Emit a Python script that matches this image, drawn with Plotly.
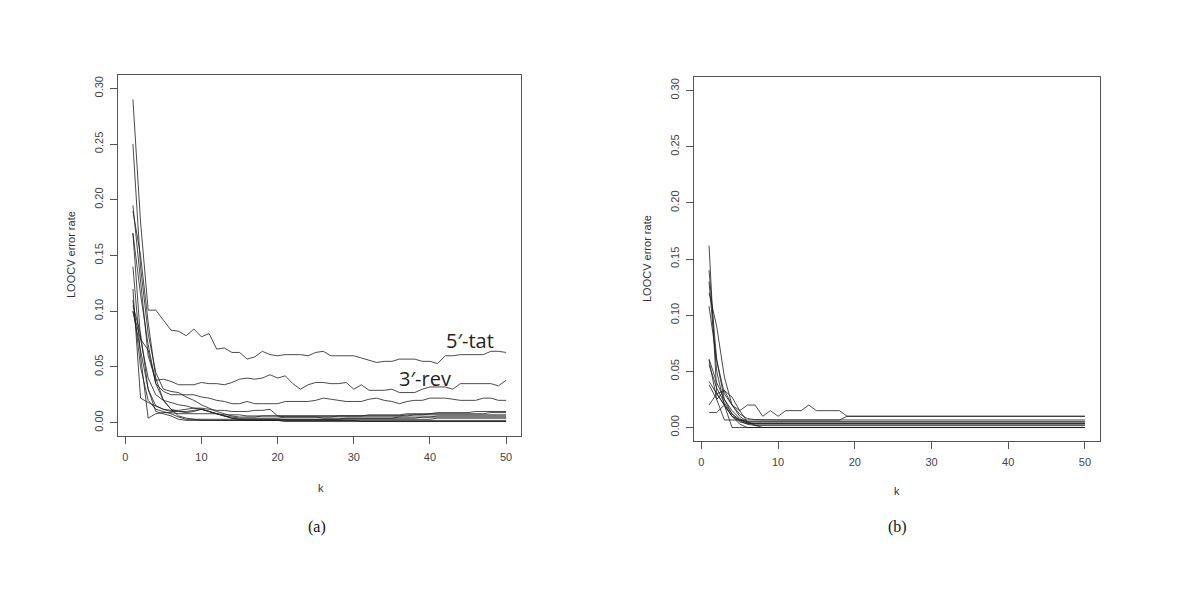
import plotly.graph_objects as go

# k = 1..50 neighbours
k = list(range(1, 51))

# ---- panel (a): LOOCV error rate curves ----
left_5tat = [
    0.290, 0.180, 0.101, 0.101, 0.092, 0.083, 0.082, 0.078, 0.084, 0.077,
    0.080, 0.066, 0.067, 0.063, 0.063, 0.057, 0.059, 0.064, 0.061, 0.060,
    0.061, 0.061, 0.061, 0.060, 0.063, 0.064, 0.060, 0.060, 0.060, 0.060,
    0.058, 0.056, 0.054, 0.055, 0.055, 0.057, 0.057, 0.057, 0.055, 0.055,
    0.053, 0.060, 0.060, 0.061, 0.061, 0.061, 0.061, 0.064, 0.064, 0.063,
]
left_3rev = [
    0.195, 0.130, 0.060, 0.038, 0.039, 0.037, 0.034, 0.034, 0.034, 0.036,
    0.035, 0.035, 0.034, 0.036, 0.039, 0.040, 0.039, 0.040, 0.043, 0.040,
    0.042, 0.035, 0.030, 0.034, 0.036, 0.036, 0.035, 0.035, 0.036, 0.030,
    0.034, 0.029, 0.029, 0.029, 0.030, 0.027, 0.027, 0.027, 0.030, 0.032,
    0.032, 0.032, 0.030, 0.035, 0.035, 0.035, 0.035, 0.035, 0.033, 0.038,
]
left_c = [
    0.170, 0.115, 0.070, 0.035, 0.028, 0.025, 0.025, 0.025, 0.025, 0.023,
    0.022, 0.020, 0.019, 0.017, 0.017, 0.019, 0.017, 0.017, 0.017, 0.017,
    0.019, 0.019, 0.019, 0.019, 0.020, 0.022, 0.021, 0.020, 0.019, 0.019,
    0.019, 0.021, 0.022, 0.020, 0.019, 0.017, 0.019, 0.020, 0.020, 0.022,
    0.022, 0.022, 0.021, 0.020, 0.020, 0.020, 0.022, 0.022, 0.020, 0.020,
]
left_d = [
    0.250, 0.140, 0.080, 0.045, 0.030, 0.028, 0.027, 0.023, 0.020, 0.016,
    0.013, 0.010, 0.008, 0.006, 0.005, 0.005, 0.005, 0.006, 0.006, 0.006,
    0.006, 0.006, 0.006, 0.006, 0.006, 0.006, 0.006, 0.006, 0.006, 0.006,
    0.006, 0.007, 0.007, 0.007, 0.007, 0.007, 0.008, 0.008, 0.008, 0.008,
    0.009, 0.009, 0.009, 0.009, 0.009, 0.010, 0.010, 0.010, 0.010, 0.010,
]
left_e = [
    0.190, 0.150, 0.090, 0.040, 0.020, 0.012, 0.010, 0.010, 0.011, 0.012,
    0.010, 0.008, 0.006, 0.005, 0.004, 0.004, 0.004, 0.004, 0.004, 0.004,
    0.005, 0.005, 0.005, 0.005, 0.005, 0.005, 0.005, 0.006, 0.006, 0.006,
    0.006, 0.006, 0.006, 0.006, 0.006, 0.006, 0.007, 0.007, 0.007, 0.008,
    0.008, 0.008, 0.008, 0.008, 0.008, 0.008, 0.008, 0.009, 0.009, 0.009,
]
left_f = [
    0.140, 0.060, 0.004, 0.008, 0.009, 0.009, 0.008, 0.008, 0.008, 0.008,
    0.008, 0.008, 0.007, 0.007, 0.007, 0.006, 0.006, 0.006, 0.006, 0.006,
    0.006, 0.006, 0.006, 0.006, 0.006, 0.006, 0.006, 0.006, 0.006, 0.006,
    0.006, 0.006, 0.006, 0.006, 0.006, 0.006, 0.006, 0.007, 0.007, 0.007,
    0.007, 0.007, 0.007, 0.007, 0.007, 0.007, 0.007, 0.007, 0.007, 0.007,
]
left_g = [
    0.120, 0.022, 0.018, 0.015, 0.012, 0.010, 0.010, 0.009, 0.010, 0.012,
    0.010, 0.008, 0.006, 0.004, 0.003, 0.003, 0.003, 0.003, 0.003, 0.003,
    0.003, 0.003, 0.003, 0.003, 0.003, 0.003, 0.003, 0.003, 0.004, 0.004,
    0.004, 0.004, 0.004, 0.004, 0.004, 0.004, 0.004, 0.004, 0.005, 0.005,
    0.005, 0.005, 0.005, 0.005, 0.005, 0.005, 0.005, 0.005, 0.005, 0.005,
]
left_h = [
    0.110, 0.050, 0.020, 0.012, 0.010, 0.008, 0.005, 0.003, 0.003, 0.003,
    0.003, 0.003, 0.003, 0.003, 0.003, 0.003, 0.003, 0.003, 0.003, 0.003,
    0.003, 0.003, 0.003, 0.003, 0.003, 0.003, 0.003, 0.003, 0.003, 0.003,
    0.003, 0.003, 0.003, 0.003, 0.003, 0.003, 0.003, 0.003, 0.003, 0.003,
    0.004, 0.004, 0.004, 0.004, 0.004, 0.004, 0.004, 0.004, 0.004, 0.004,
]
left_i = [
    0.100, 0.075, 0.065, 0.035, 0.020, 0.012, 0.006, 0.004, 0.003, 0.002,
    0.002, 0.002, 0.002, 0.002, 0.002, 0.002, 0.002, 0.002, 0.002, 0.002,
    0.002, 0.002, 0.002, 0.002, 0.002, 0.002, 0.002, 0.002, 0.002, 0.002,
    0.001, 0.001, 0.001, 0.001, 0.001, 0.001, 0.001, 0.001, 0.001, 0.001,
    0.001, 0.001, 0.001, 0.001, 0.001, 0.001, 0.001, 0.001, 0.001, 0.001,
]
left_j = [
    0.105, 0.080, 0.030, 0.015, 0.012, 0.011, 0.011, 0.012, 0.013, 0.013,
    0.012, 0.011, 0.011, 0.010, 0.010, 0.010, 0.011, 0.011, 0.012, 0.006,
    0.005, 0.005, 0.005, 0.005, 0.005, 0.004, 0.004, 0.004, 0.004, 0.004,
    0.004, 0.004, 0.004, 0.004, 0.004, 0.005, 0.005, 0.005, 0.005, 0.005,
    0.006, 0.006, 0.006, 0.006, 0.006, 0.006, 0.006, 0.006, 0.006, 0.006,
]
left_k = [
    0.170, 0.075, 0.040, 0.025, 0.020, 0.018, 0.016, 0.015, 0.013, 0.012,
    0.010, 0.008, 0.006, 0.004, 0.003, 0.002, 0.002, 0.002, 0.002, 0.002,
    0.002, 0.002, 0.002, 0.002, 0.002, 0.002, 0.002, 0.002, 0.002, 0.002,
    0.002, 0.002, 0.002, 0.002, 0.002, 0.002, 0.002, 0.002, 0.002, 0.002,
    0.002, 0.002, 0.002, 0.002, 0.002, 0.002, 0.002, 0.002, 0.002, 0.002,
]
left_l = [
    0.100, 0.065, 0.030, 0.010, 0.008, 0.006, 0.003, 0.002, 0.002, 0.002,
    0.002, 0.002, 0.002, 0.002, 0.002, 0.002, 0.002, 0.002, 0.002, 0.002,
    0.001, 0.001, 0.001, 0.001, 0.001, 0.001, 0.001, 0.001, 0.001, 0.001,
    0.001, 0.001, 0.001, 0.001, 0.001, 0.001, 0.001, 0.001, 0.001, 0.001,
    0.001, 0.001, 0.001, 0.001, 0.001, 0.001, 0.001, 0.001, 0.001, 0.001,
]

# ---- panel (b) ----
right_a = [
    0.140, 0.060, 0.030, 0.020, 0.015, 0.020, 0.020, 0.010, 0.015, 0.010,
    0.015, 0.015, 0.015, 0.020, 0.015, 0.015, 0.015, 0.015, 0.010, 0.010,
    0.010, 0.010, 0.010, 0.010, 0.010, 0.010, 0.010, 0.010, 0.010, 0.010,
    0.010, 0.010, 0.010, 0.010, 0.010, 0.010, 0.010, 0.010, 0.010, 0.010,
    0.010, 0.010, 0.010, 0.010, 0.010, 0.010, 0.010, 0.010, 0.010, 0.010,
]
right_b = [
    0.120, 0.090, 0.045, 0.020, 0.012, 0.008, 0.007, 0.0067, 0.0067, 0.0067,
    0.0067, 0.0067, 0.0067, 0.0067, 0.0067, 0.0067, 0.0067, 0.0067, 0.010, 0.010,
    0.010, 0.010, 0.010, 0.010, 0.010, 0.010, 0.010, 0.010, 0.010, 0.010,
    0.010, 0.010, 0.010, 0.010, 0.010, 0.010, 0.010, 0.010, 0.010, 0.010,
    0.010, 0.010, 0.010, 0.010, 0.010, 0.010, 0.010, 0.010, 0.010, 0.010,
]
right_c = [
    0.162, 0.030, 0.020, 0.010, 0.0067, 0.0067, 0.0067, 0.0067, 0.0067, 0.0067,
    0.0067, 0.0067, 0.0067, 0.0067, 0.0067, 0.0067, 0.0067, 0.0067, 0.0067, 0.0067,
    0.0067, 0.0067, 0.0067, 0.0067, 0.0067, 0.0067, 0.0067, 0.0067, 0.0067, 0.0067,
    0.0067, 0.0067, 0.0067, 0.0067, 0.0067, 0.0067, 0.0067, 0.0067, 0.0067, 0.0067,
    0.0067, 0.0067, 0.0067, 0.0067, 0.0067, 0.0067, 0.0067, 0.0067, 0.0067, 0.0067,
]
right_d = [
    0.108, 0.060, 0.025, 0.012, 0.007, 0.005, 0.005, 0.005, 0.005, 0.005,
    0.005, 0.005, 0.005, 0.005, 0.005, 0.005, 0.005, 0.005, 0.005, 0.005,
    0.005, 0.005, 0.005, 0.005, 0.005, 0.005, 0.005, 0.005, 0.005, 0.005,
    0.005, 0.005, 0.005, 0.005, 0.005, 0.005, 0.005, 0.005, 0.005, 0.005,
    0.005, 0.005, 0.005, 0.005, 0.005, 0.005, 0.005, 0.005, 0.005, 0.005,
]
right_e = [
    0.061, 0.040, 0.025, 0.015, 0.008, 0.004, 0.0033, 0.0033, 0.0033, 0.0033,
    0.0033, 0.0033, 0.0033, 0.0033, 0.0033, 0.0033, 0.0033, 0.0033, 0.0033, 0.0033,
    0.0033, 0.0033, 0.0033, 0.0033, 0.0033, 0.0033, 0.0033, 0.0033, 0.0033, 0.0033,
    0.0033, 0.0033, 0.0033, 0.0033, 0.0033, 0.0033, 0.0033, 0.0033, 0.0033, 0.0033,
    0.0033, 0.0033, 0.0033, 0.0033, 0.0033, 0.0033, 0.0033, 0.0033, 0.0033, 0.0033,
]
right_f = [
    0.056, 0.035, 0.022, 0.012, 0.006, 0.003, 0.0017, 0.0017, 0.0017, 0.0017,
    0.0017, 0.0017, 0.0017, 0.0017, 0.0017, 0.0017, 0.0017, 0.0017, 0.0017, 0.0017,
    0.0017, 0.0017, 0.0017, 0.0017, 0.0017, 0.0017, 0.0017, 0.0017, 0.0017, 0.0017,
    0.0017, 0.0017, 0.0017, 0.0017, 0.0017, 0.0017, 0.0017, 0.0017, 0.0017, 0.0017,
    0.0017, 0.0017, 0.0017, 0.0017, 0.0017, 0.0017, 0.0017, 0.0017, 0.0017, 0.0017,
]
right_g = [
    0.041, 0.030, 0.020, 0.010, 0.005, 0.0033, 0.0033, 0.0033, 0.0033, 0.0033,
    0.0033, 0.0033, 0.0033, 0.0033, 0.0033, 0.0033, 0.0033, 0.0033, 0.0033, 0.0033,
    0.0033, 0.0033, 0.0033, 0.0033, 0.0033, 0.0033, 0.0033, 0.0033, 0.0033, 0.0033,
    0.0033, 0.0033, 0.0033, 0.0033, 0.0033, 0.0033, 0.0033, 0.0033, 0.0033, 0.0033,
    0.0033, 0.0033, 0.0033, 0.0033, 0.0033, 0.0033, 0.0033, 0.0033, 0.0033, 0.0033,
]
right_h = [
    0.038, 0.025, 0.033, 0.020, 0.010, 0.005, 0.005, 0.005, 0.005, 0.005,
    0.005, 0.005, 0.005, 0.005, 0.005, 0.005, 0.005, 0.005, 0.005, 0.005,
    0.005, 0.005, 0.005, 0.005, 0.005, 0.005, 0.005, 0.005, 0.005, 0.005,
    0.005, 0.005, 0.005, 0.005, 0.005, 0.005, 0.005, 0.005, 0.005, 0.005,
    0.005, 0.005, 0.005, 0.005, 0.005, 0.005, 0.005, 0.005, 0.005, 0.005,
]
right_i = [
    0.020, 0.030, 0.033, 0.027, 0.015, 0.005, 0.002, 0.000, 0.000, 0.000,
    0.000, 0.000, 0.000, 0.000, 0.000, 0.000, 0.000, 0.000, 0.000, 0.000,
    0.000, 0.000, 0.000, 0.000, 0.000, 0.000, 0.000, 0.000, 0.000, 0.000,
    0.000, 0.000, 0.000, 0.000, 0.000, 0.000, 0.000, 0.000, 0.000, 0.000,
    0.000, 0.000, 0.000, 0.000, 0.000, 0.000, 0.000, 0.000, 0.000, 0.000,
]
right_j = [
    0.0134, 0.0134, 0.020, 0.010, 0.003, 0.000, 0.000, 0.000, 0.000, 0.000,
    0.000, 0.000, 0.000, 0.000, 0.000, 0.000, 0.000, 0.000, 0.000, 0.000,
    0.000, 0.000, 0.000, 0.000, 0.000, 0.000, 0.000, 0.000, 0.000, 0.000,
    0.000, 0.000, 0.000, 0.000, 0.000, 0.000, 0.000, 0.000, 0.000, 0.000,
    0.000, 0.000, 0.000, 0.000, 0.000, 0.000, 0.000, 0.000, 0.000, 0.000,
]
right_k = [
    0.130, 0.050, 0.020, 0.000, 0.000, 0.000, 0.000, 0.000, 0.000, 0.000,
    0.000, 0.000, 0.000, 0.000, 0.000, 0.000, 0.000, 0.000, 0.000, 0.000,
    0.000, 0.000, 0.000, 0.000, 0.000, 0.000, 0.000, 0.000, 0.000, 0.000,
    0.000, 0.000, 0.000, 0.000, 0.000, 0.000, 0.000, 0.000, 0.000, 0.000,
    0.000, 0.000, 0.000, 0.000, 0.000, 0.000, 0.000, 0.000, 0.000, 0.000,
]
right_l = [
    0.060, 0.025, 0.0067, 0.0067, 0.0067, 0.004, 0.0033, 0.0033, 0.0033, 0.0033,
    0.0033, 0.0033, 0.0033, 0.0033, 0.0033, 0.0033, 0.0033, 0.0033, 0.0033, 0.0033,
    0.0033, 0.0033, 0.0033, 0.0033, 0.0033, 0.0033, 0.0033, 0.0033, 0.0033, 0.0033,
    0.0033, 0.0033, 0.0033, 0.0033, 0.0033, 0.0033, 0.0033, 0.0033, 0.0033, 0.0033,
    0.0033, 0.0033, 0.0033, 0.0033, 0.0033, 0.0033, 0.0033, 0.0033, 0.0033, 0.0033,
]

left_series = [left_5tat, left_3rev, left_c, left_d, left_e, left_f,
               left_g, left_h, left_i, left_j, left_k, left_l]
right_series = [right_a, right_b, right_c, right_d, right_e, right_f,
                right_g, right_h, right_i, right_j, right_k, right_l]

x_ticks = [0, 10, 20, 30, 40, 50]
y_ticks = [0.00, 0.05, 0.10, 0.15, 0.20, 0.25, 0.30]

# the page body has an 8px margin, so work in page pixels and convert
W, H, OFF = 1184, 584, 8


def px(x):
    return (x - OFF) / W


def py(y):
    return 1 - (y - OFF) / H


LINE = 'rgba(30,30,30,0.8)'
FRAME = '#555555'
TICKFONT = dict(family='Liberation Sans, Arial', size=11, color='#444444')

fig = go.Figure()
for s in left_series:
    fig.add_trace(go.Scatter(x=k, y=s, mode='lines', xaxis='x', yaxis='y',
                             line=dict(color=LINE, width=1),
                             showlegend=False, hoverinfo='skip'))
for s in right_series:
    fig.add_trace(go.Scatter(x=k, y=s, mode='lines', xaxis='x2', yaxis='y2',
                             line=dict(color=LINE, width=1),
                             showlegend=False, hoverinfo='skip'))


def xaxis(domain, anchor):
    return dict(domain=domain, anchor=anchor, range=[-0.96, 51.96],
                tickvals=x_ticks, ticks='outside', ticklen=7, tickcolor=FRAME,
                ticklabelstandoff=4,
                showline=True, mirror=True, linecolor=FRAME, linewidth=1,
                showgrid=False, zeroline=False, tickfont=TICKFONT)


def yaxis(domain, anchor):
    return dict(domain=domain, anchor=anchor, range=[-0.012, 0.312],
                tickvals=y_ticks, tickformat='.2f', tickangle=-90,
                ticks='outside', ticklen=7, tickcolor=FRAME,
                ticklabelstandoff=3,
                showline=True, mirror=True, linecolor=FRAME, linewidth=1,
                showgrid=False, zeroline=False, tickfont=TICKFONT)


label_font = dict(family='Liberation Sans, Arial', size=11, color='#333333')
caption_font = dict(family='Liberation Serif, Times New Roman', size=16, color='#111111')
tag_font = dict(family='Open Sans, Noto Sans', size=20, color='#222222')


def note(text, x, y, font, angle=0):
    return dict(text=text, x=px(x), y=py(y), xref='paper', yref='paper',
                xanchor='center', yanchor='middle', textangle=angle,
                showarrow=False, font=font)


fig.update_layout(
    width=W, height=H,
    margin=dict(l=0, r=0, t=0, b=0),
    paper_bgcolor='white', plot_bgcolor='white',
    xaxis=xaxis([px(118), px(521)], 'y'),
    yaxis=yaxis([py(436), py(75)], 'x'),
    xaxis2=xaxis([px(694), px(1100)], 'y2'),
    yaxis2=yaxis([py(441), py(77)], 'x2'),
    annotations=[
        note('LOOCV error rate', 71, 255, label_font, -90),
        note('k', 321, 488, label_font),
        note('LOOCV error rate', 647, 259, label_font, -90),
        note('k', 897, 491, label_font),
        note('(a)', 317, 527, caption_font),
        note('(b)', 897, 527, caption_font),
        dict(text='5\u2032-tat', x=45.3, y=0.074, xref='x', yref='y',
             xanchor='center', yanchor='middle', showarrow=False, font=tag_font),
        dict(text='3\u2032-rev', x=39.4, y=0.040, xref='x', yref='y',
             xanchor='center', yanchor='middle', showarrow=False, font=tag_font),
    ],
)

fig.write_html("out.html")
